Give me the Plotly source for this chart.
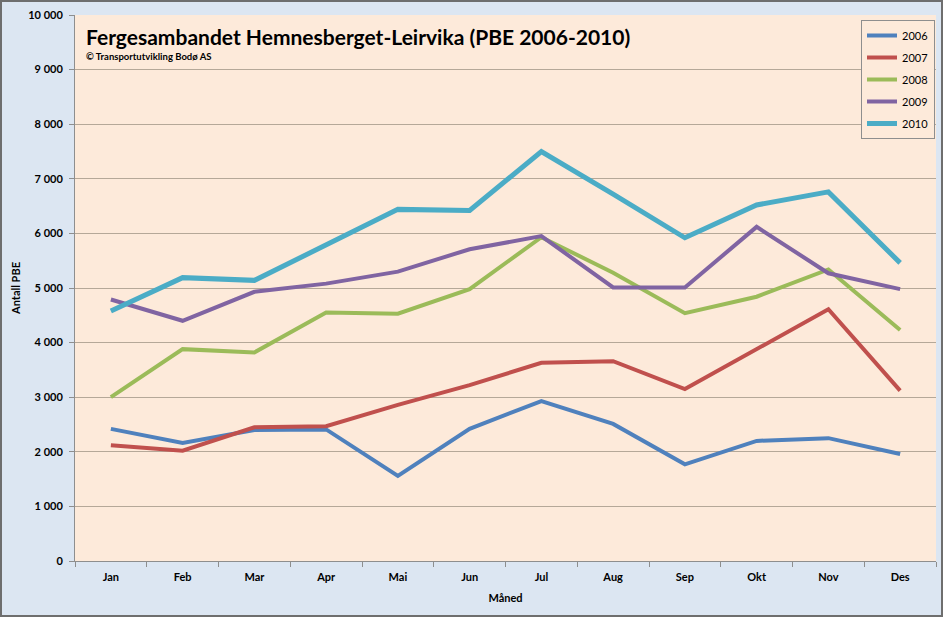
import plotly.graph_objects as go

months = ["Jan", "Feb", "Mar", "Apr", "Mai", "Jun", "Jul", "Aug", "Sep", "Okt", "Nov", "Des"]
v2006 = [2420, 2160, 2400, 2410, 1560, 2420, 2930, 2510, 1770, 2200, 2250, 1960]
v2007 = [2120, 2020, 2450, 2470, 2860, 3220, 3630, 3660, 3150, 3880, 4610, 3120]
v2008 = [3000, 3880, 3820, 4550, 4530, 4980, 5930, 5280, 4540, 4840, 5340, 4230]
v2009 = [4790, 4400, 4930, 5080, 5300, 5710, 5950, 5010, 5010, 6120, 5270, 4980]
v2010 = [4580, 5190, 5140, 5800, 6440, 6420, 7500, 6720, 5920, 6520, 6760, 5460]
years = ["2006", "2007", "2008", "2009", "2010"]
colors = ["#4F81BD", "#C0504D", "#9BBB59", "#8064A2", "#4BACC6"]
widths = [4, 4, 4, 4, 5]
series = [v2006, v2007, v2008, v2009, v2010]

fig = go.Figure()
for name, vals, c, w in zip(years, series, colors, widths):
    fig.add_trace(go.Scatter(x=months, y=vals, mode="lines", name=name, legendgroup=name,
                             line=dict(color=c, width=w)))

L, R, T, B = 75, 7, 15, 56
W, H = 943, 617
pw = W - L - R
ph = H - T - B
font = "Lato, 'Open Sans', sans-serif"

fig.update_layout(
    width=W, height=H,
    margin=dict(l=L, r=R, t=T, b=B),
    paper_bgcolor="#DCE6F2",
    plot_bgcolor="#FDEADA",
    font=dict(family=font, color="#000000"),
    showlegend=True,
    legend=dict(x=(861 - L) / pw, y=(H - B - 20) / ph, xanchor="left", yanchor="top",
                bgcolor="#FDEADA", bordercolor="#8E8E8E", borderwidth=1,
                font=dict(size=11, family=font), tracegroupgap=3,
                itemwidth=30),
    xaxis=dict(type="category", range=[-0.5, 11.5], showgrid=False,
               ticks="outside", ticklen=5, tickcolor="#8E8E8E", tickson="boundaries",
               showline=True, linecolor="#8E8E8E", linewidth=1, ticklabelstandoff=6,
               tickfont=dict(size=11, family=font, weight="bold"),
               title=dict(text="Måned", font=dict(size=11, family=font, weight="bold"), standoff=12)),
    yaxis=dict(range=[0, 10000], dtick=1000, showgrid=True, gridcolor="#B5A898", gridwidth=1,
               ticks="outside", ticklen=5, tickcolor="#8E8E8E",
               showline=True, linecolor="#8E8E8E", linewidth=1, zeroline=False,
               ticklabelstandoff=4,
               tickvals=list(range(0, 10001, 1000)),
               ticktext=["0", "1 000", "2 000", "3 000", "4 000", "5 000", "6 000", "7 000", "8 000", "9 000", "10 000"],
               tickfont=dict(size=11, family=font, weight="bold"),
               title=dict(text="Antall PBE", font=dict(size=11, family=font, weight="bold"), standoff=5)),
)

fig.add_annotation(text="Fergesambandet Hemnesberget-Leirvika (PBE 2006-2010)",
                   xref="paper", yref="paper", x=(84 - L) / pw, y=(H - B - 37) / ph,
                   xanchor="left", yanchor="middle", showarrow=False,
                   font=dict(size=21, family=font, weight="bold", color="#000000"))
fig.add_annotation(text="© Transportutvikling Bodø AS",
                   xref="paper", yref="paper", x=(84 - L) / pw, y=(H - B - 57) / ph,
                   xanchor="left", yanchor="middle", showarrow=False,
                   font=dict(size=9.5, family=font, weight="bold", color="#000000"))

fig.add_shape(type="rect", xref="paper", yref="paper",
              x0=(1 - L) / pw, x1=(W - 1 - L) / pw, y0=-(B - 1) / ph, y1=(H - 1 - B) / ph,
              line=dict(color="#6E6E6E", width=2), fillcolor="rgba(0,0,0,0)", layer="above")

fig.write_html("out.html", config={"displayModeBar": False},
               post_script="document.body.style.margin='0';document.body.style.overflow='hidden';")
